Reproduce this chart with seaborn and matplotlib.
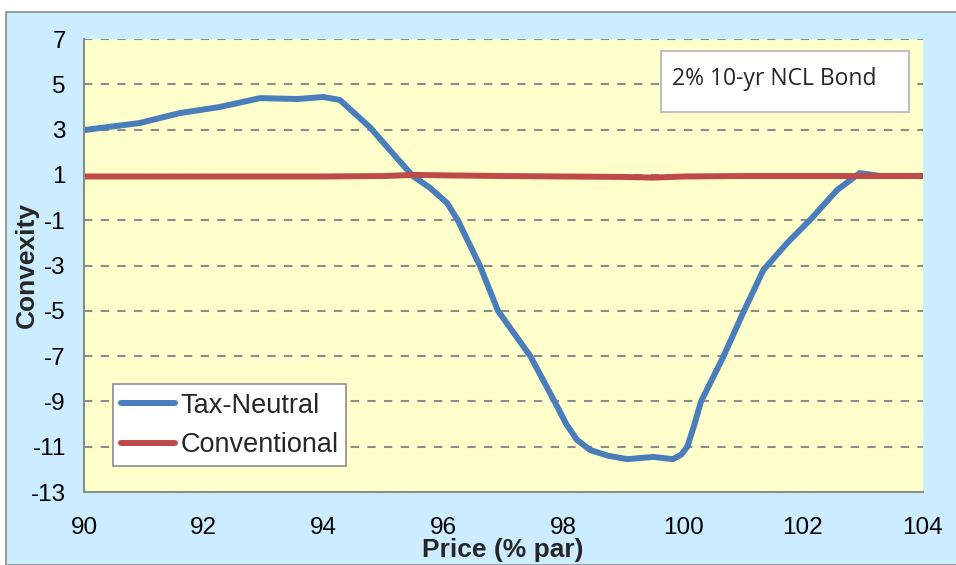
import matplotlib
matplotlib.use("Agg")
import matplotlib.pyplot as plt
from matplotlib.patches import Rectangle
import seaborn as sns
import pandas as pd

# Convexity of a 2% 10-year NCL bond across prices
price_tn = [90.0, 90.93, 91.6, 92.27, 92.94, 93.56, 93.99, 94.27, 94.77, 95.28,
            95.49, 95.78, 96.06, 96.24, 96.61, 96.91, 97.45, 97.86, 98.05, 98.23,
            98.45, 98.75, 99.07, 99.5, 99.83, 99.97, 100.07, 100.18, 100.3, 100.67,
            101.0, 101.34, 101.74, 102.12, 102.57, 102.95, 103.3, 104.0]
convexity_tn = [2.98, 3.29, 3.73, 4.0, 4.39, 4.35, 4.44, 4.31, 3.11, 1.57,
                0.95, 0.42, -0.24, -1.0, -3.02, -5.0, -7.0, -9.03, -10.0, -10.7,
                -11.15, -11.4, -11.55, -11.45, -11.55, -11.35, -11.0, -10.1, -9.0, -7.04,
                -5.1, -3.2, -2.0, -0.99, 0.33, 1.08, 0.95, 0.95]

price_conv = [90.0, 91.0, 92.0, 93.0, 94.0, 95.0, 95.5, 96.0, 97.0, 98.0,
              99.0, 99.5, 100.0, 101.0, 102.0, 103.0, 104.0]
convexity_conv = [0.93, 0.93, 0.93, 0.93, 0.93, 0.95, 1.0, 0.98, 0.95, 0.93,
                  0.91, 0.88, 0.93, 0.95, 0.95, 0.95, 0.95]

series_names = ["Tax-Neutral", "Conventional"]
series_colors = ["#4A7EBB", "#BE4B48"]
x_ticks = [90, 92, 94, 96, 98, 100, 102, 104]
y_ticks = [7, 5, 3, 1, -1, -3, -5, -7, -9, -11, -13]
note_text = "2% 10-yr NCL Bond"

df = pd.concat([
    pd.DataFrame({"Price": price_tn, "Convexity": convexity_tn, "Series": series_names[0]}),
    pd.DataFrame({"Price": price_conv, "Convexity": convexity_conv, "Series": series_names[1]}),
], ignore_index=True)

sns.set_theme(style="white")
plt.rcParams["font.family"] = ["Liberation Sans", "DejaVu Sans"]
plt.rcParams["axes.unicode_minus"] = False

fig = plt.figure(figsize=(9.56, 5.65), dpi=100)
fig.patch.set_facecolor("white")
# light blue chart panel with a gray border
fig.add_artist(Rectangle((6 / 956, 0), 1.0, 1 - 12 / 565, transform=fig.transFigure,
                         facecolor="#CCECFF", edgecolor="#8C8C8C", linewidth=1.2, zorder=0))

ax = fig.add_axes([84 / 956, 1 - 492 / 565, (922.7 - 84) / 956, (492 - 39) / 565])
ax.set_facecolor("#FFFFCC")

sns.lineplot(data=df, x="Price", y="Convexity", hue="Series", hue_order=series_names,
             palette=series_colors, linewidth=4.3, ax=ax, sort=False, legend=True,
             estimator=None)
for line in ax.get_lines():
    line.set_solid_joinstyle("round")

ax.set_xlim(90, 104)
ax.set_ylim(-13, 7)
ax.set_xticks(x_ticks)
ax.set_yticks(y_ticks)
ax.tick_params(axis="both", labelsize=17.5, colors="#8C8C8C", labelcolor="black",
               length=6, width=1.5, direction="out")
ax.tick_params(axis="x", pad=12)
ax.tick_params(axis="y", pad=7)
ax.grid(axis="y", linestyle=(0, (4, 4)), color="#8C8C8C", linewidth=1.5)
ax.set_axisbelow(True)
for side in ["top", "right"]:
    ax.spines[side].set_visible(False)
for side in ["left", "bottom"]:
    ax.spines[side].set_color("#8C8C8C")
    ax.spines[side].set_linewidth(1.5)

ax.set_xlabel("Price (% par)", fontsize=19, fontweight="bold")
ax.xaxis.set_label_coords((503 - 84) / (922.7 - 84), -(550 - 492) / (492 - 39))
ax.xaxis.label.set_va("center")
ax.set_ylabel("Convexity", fontsize=19, fontweight="bold")
ax.yaxis.set_label_coords(-(84 - 27) / (922.7 - 84), 1 - (265 - 39) / (492 - 39))
ax.yaxis.label.set_va("center")

leg = ax.legend(loc="lower left", bbox_to_anchor=(0.034, 0.057), fontsize=19.5,
                frameon=True, fancybox=False, handlelength=2.0, handletextpad=0.2,
                borderpad=0.3, labelspacing=0.5, borderaxespad=0)
leg.get_frame().set_edgecolor("#8C8C8C")
leg.get_frame().set_linewidth(1.2)
leg.get_frame().set_facecolor("white")
leg.get_frame().set_alpha(1.0)
for line in leg.get_lines():
    line.set_linewidth(4.3)

# annotation box in the upper right corner
ax.add_patch(Rectangle(((661 - 84) / (922.7 - 84), 1 - (112 - 39) / (492 - 39)),
                       (909 - 661) / (922.7 - 84), (112 - 51) / (492 - 39),
                       transform=ax.transAxes, facecolor="white", edgecolor="#BFBFBF",
                       linewidth=1.5, zorder=5))
ax.text((672 - 84) / (922.7 - 84), 1 - (79 - 39) / (492 - 39), note_text,
        transform=ax.transAxes, fontsize=16.5, family=["Open Sans", "DejaVu Sans"],
        va="center", ha="left", zorder=6)

fig.savefig("out.png", dpi=100)
